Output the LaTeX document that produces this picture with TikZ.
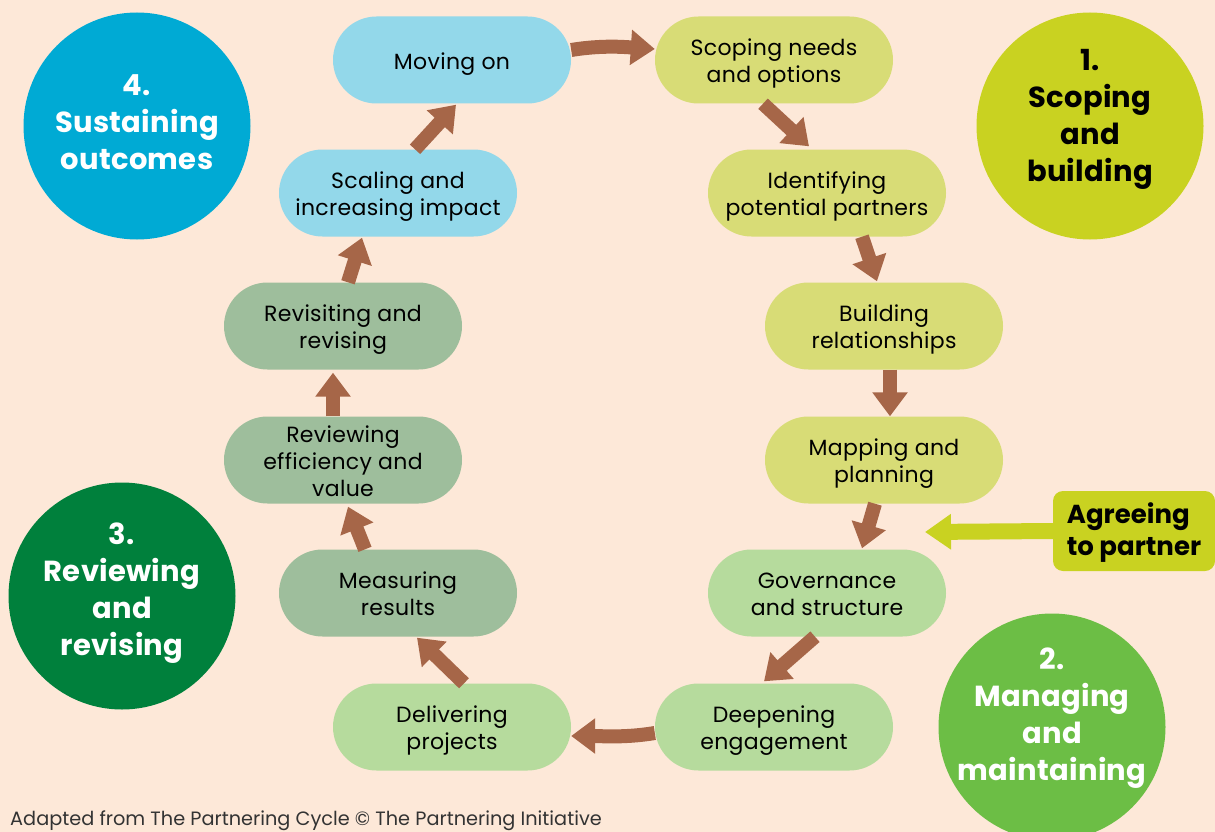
\documentclass[tikz,border=0pt]{standalone}
\usepackage{fontspec}
\setmainfont{Poppins}
\usetikzlibrary{arrows.meta}

\definecolor{bgpeach}{HTML}{FDE8D8}
\definecolor{pillblue}{HTML}{93D8EA}
\definecolor{pillyellow}{HTML}{D8DC76}
\definecolor{pillgreen}{HTML}{B6DB9D}
\definecolor{pillsage}{HTML}{9EBE9C}
\definecolor{arrowbrown}{HTML}{A66648}
\definecolor{circblue}{HTML}{00AAD4}
\definecolor{circlime}{HTML}{C9D221}
\definecolor{circdark}{HTML}{00803C}
\definecolor{circgreen}{HTML}{6CBE45}
\definecolor{footgrey}{HTML}{333333}

% fixed struts so every label sits at the same height in its box
\newcommand{\lbl}[2][1.45em]{\rule[-0.3em]{0pt}{#1}#2\rule[-0.3em]{0pt}{#1}}
% keep the baseline distance fixed even where a strut is taller than it
\newcommand{\fixedlines}{\lineskiplimit=-100pt\relax}

\tikzset{
  pill/.style={rectangle, rounded corners=43.5pt, minimum width=238pt,
    minimum height=87pt, inner sep=0pt, align=center, text=black,
    font=\fontsize{22}{27}\selectfont\addfontfeatures{LetterSpace=1.5}\fixedlines},
  phase/.style={circle, minimum size=227pt, inner sep=0pt},
  phasetext/.style={inner sep=0pt, align=center,
    font=\bfseries\fontsize{29}{37}\selectfont\addfontfeatures{LetterSpace=1}\fixedlines},
  flow/.style={draw=arrowbrown, line width=14pt,
    -{Triangle[length=24pt,width=34pt]}},
}

\begin{document}
\begin{tikzpicture}[x=1pt,y=-1pt]
  \useasboundingbox (0,0) rectangle (1215,832);
  \clip (0,0) rectangle (1215,832);
  \fill[bgpeach] (0,0) rectangle (1215,832);

  % phase circles
  \node[phase, fill=circblue]  (ph4) at (137,126) {};
  \node[phase, fill=circlime]  (ph1) at (1090,126) {};
  \node[phase, fill=circdark]  (ph3) at (122,596) {};
  \node[phase, fill=circgreen] (ph2) at (1052,727) {};
  \node[phasetext, text=white] (ph4t) at (137,120) {\lbl{4.\\Sustaining\\outcomes}};
  \node[phasetext, text=black] (ph1t) at (1090,114) {\lbl{1.\\Scoping\\and\\building}};
  \node[phasetext, text=white] (ph3t) at (122,588) {\lbl{3.\\Reviewing\\and\\revising}};
  \node[phasetext, text=white] (ph2t) at (1052,713) {\lbl{2.\\Managing\\and\\maintaining}};

  % cycle steps
  \node[pill, fill=pillblue]   (mov) at (452,60)  {\lbl{Moving on}};
  \node[pill, fill=pillyellow] (scp) at (774,60)  {\lbl{Scoping needs\\and options}};
  \node[pill, fill=pillyellow] (idf) at (827,193) {\lbl{Identifying\\potential partners}};
  \node[pill, fill=pillyellow] (bld) at (884,326) {\lbl{Building\\relationships}};
  \node[pill, fill=pillyellow] (map) at (884,460) {\lbl{Mapping and\\planning}};
  \node[pill, fill=pillgreen]  (gov) at (827,593) {\lbl{Governance\\and structure}};
  \node[pill, fill=pillgreen]  (dee) at (774,727) {\lbl{Deepening\\engagement}};
  \node[pill, fill=pillgreen]  (del) at (452,727) {\lbl{Delivering\\projects}};
  \node[pill, fill=pillsage]   (mea) at (398,593) {\lbl{Measuring\\results}};
  \node[pill, fill=pillsage]   (rev) at (343,460) {\lbl{Reviewing\\efficiency and\\value}};
  \node[pill, fill=pillsage]   (rvs) at (343,326) {\lbl{Revisiting and\\revising}};
  \node[pill, fill=pillblue]   (scl) at (398,193) {\lbl{Scaling and\\increasing impact}};

  % agreement box
  \node[rectangle, rounded corners=10pt, fill=circlime, minimum width=162pt,
        minimum height=80pt, inner sep=0pt, align=left, text=black,
        font=\bfseries\fontsize{26}{32}\selectfont\fixedlines] (agr) at (1134,531)
        {\lbl[1.25em]{Agreeing\\to partner}};
  \coordinate (agrtip) at (925,532);
  \draw[draw=circlime, line width=16pt, -{Triangle[length=26pt,width=34pt]}]
    (agr.west) -- (agrtip);

  % arrows around the cycle
  \draw[flow] ([yshift=10pt]mov.east) .. controls +(30,-5) and +(-30,-2) .. ([yshift=11pt]scp.west);
  \draw[flow] ([xshift=-11pt]scp.south) -- ([xshift=-18pt,yshift=3pt]idf.north);
  \draw[flow] ([xshift=35pt]idf.south) -- ([xshift=-7pt,yshift=1pt]bld.north);
  \draw[flow] ([xshift=6pt]bld.south) -- ([xshift=6pt]map.north);
  \draw[flow] ([xshift=-9pt]map.south) -- ([xshift=35pt,yshift=1pt]gov.north);
  \draw[flow] ([xshift=-12pt]gov.south) -- ([xshift=-10pt,yshift=2pt]dee.north);
  \draw[flow] ([yshift=-6pt]dee.west) .. controls +(-30,5) and +(30,0) .. ([yshift=-9pt]del.east);
  \draw[flow] ([xshift=12pt]del.north) -- ([xshift=19pt,yshift=-1pt]mea.south);
  \draw[flow] ([xshift=-33pt]mea.north) -- ([xshift=5pt,yshift=-3pt]rev.south);
  \draw[flow] ([xshift=-10pt]rev.north) -- ([xshift=-10pt,yshift=-3pt]rvs.south);
  \draw[flow] ([xshift=5pt]rvs.north) -- ([xshift=-36pt,yshift=-1pt]scl.south);
  \draw[flow] ([xshift=17pt]scl.north) -- ([xshift=4pt,yshift=-1pt]mov.south);

  % credit line
  \node[anchor=base west, inner sep=0pt, text=footgrey,
        font=\fontsize{19.3}{21}\selectfont] (credit) at (10,825.5)
        {Adapted from The Partnering Cycle © The Partnering Initiative};
\end{tikzpicture}
\end{document}
